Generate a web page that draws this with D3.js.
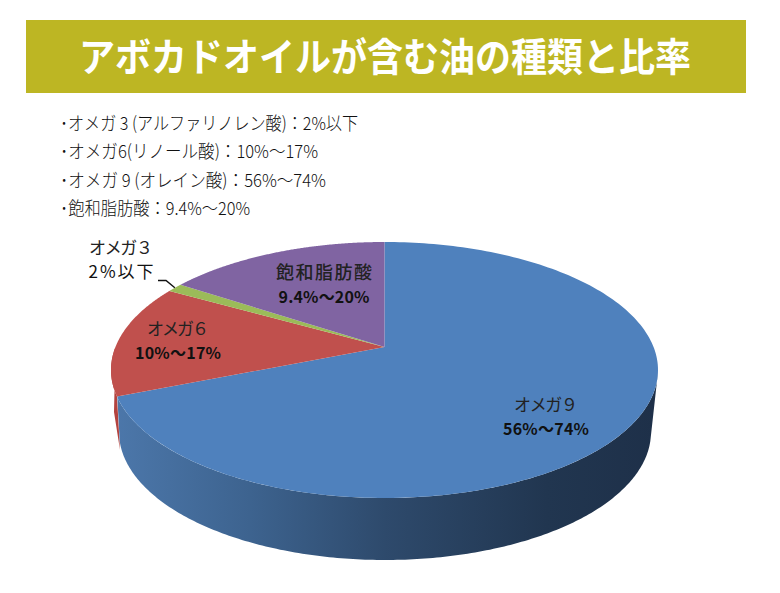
<!DOCTYPE html>
<html>
<head>
<meta charset="utf-8">
<script src="https://cdnjs.cloudflare.com/ajax/libs/d3/7.8.5/d3.min.js"></script>
<style>
html, body { margin: 0; padding: 0; background: #fff; }
text { font-family: "Noto Sans CJK JP", sans-serif; }
</style>
</head>
<body>
<script>
var titleText = "アボカドオイルが含む油の種類と比率";
var noteLines = [
    "･オメガ 3 (アルファリノレン酸)：2%以下",
    "･オメガ6(リノール酸)：10%～17%",
    "･オメガ 9 (オレイン酸)：56%～74%",
    "･飽和脂肪酸：9.4%～20%"
];
var noteWidths = [298, 258, 266, 190];

var categories = ["オメガ９", "オメガ６", "オメガ３", "飽和脂肪酸"];
var shares = [68.9, 14.3, 1.1, 15.7];
var ranges = ["56%～74%", "10%～17%", "2%以下", "9.4%～20%"];
var colors = ["#4f81bd", "#c0504d", "#9bbb59", "#8064a2"];

var nameWidths = [64, 62, 64, 96];
var rangeWidths = [86, 86, 65, 91];

var width = 780, height = 593;

var svg = d3.select("body").append("svg")
    .attr("width", width)
    .attr("height", height)
    .style("display", "block");

// title band
svg.append("rect")
    .attr("x", 26).attr("y", 20)
    .attr("width", 720).attr("height", 73)
    .attr("fill", "#bdb623");
svg.append("text")
    .attr("x", 79).attr("y", 71)
    .attr("font-size", 39)
    .attr("font-weight", 700)
    .attr("fill", "#fff")
    .attr("textLength", 612)
    .attr("lengthAdjust", "spacingAndGlyphs")
    .text(titleText);

// notes above the pie
svg.selectAll(".note")
    .data(noteLines)
    .enter().append("text")
    .attr("class", "note")
    .attr("x", 60)
    .attr("y", function(d, i) { return 130 + i * 28.4; })
    .attr("font-size", 18)
    .attr("font-weight", 300)
    .attr("fill", "#111")
    .attr("textLength", function(d, i) { return noteWidths[i]; })
    .attr("lengthAdjust", "spacingAndGlyphs")
    .text(function(d) { return d; });

// unit circle -> screen, tilted so the hub sits behind the ellipse centre
var tilt = -0.18;
var topX = d3.scaleLinear().domain([-1, 1]).range([111, 658]);
var topY = d3.scaleLinear().domain([-1, 1]).range([242, 498]);
var baseX = d3.scaleLinear().domain([-1, 1]).range([119, 651]);
var baseY = d3.scaleLinear().domain([-1, 1]).range([304, 560]);

function project(a, r, sx, sy) {
    var u = r * Math.sin(a), v = -r * Math.cos(a);
    var d = 1 + tilt * v;
    return [sx(u * Math.sqrt(1 - tilt * tilt) / d), sy((v + tilt) / d)];
}
function sweep(a0, a1, sx, sy) {
    return d3.range(0, 1.0001, 0.005).map(function(t) {
        return project(a0 + (a1 - a0) * t, 1, sx, sy);
    });
}
var line = d3.line();
var pie = d3.pie().sort(null).value(function(d) { return d; });
var arcs = pie(shares);

var defs = svg.append("defs");
var wallGrad = defs.append("linearGradient")
    .attr("id", "wall")
    .attr("gradientUnits", "userSpaceOnUse")
    .attr("x1", 115).attr("x2", 655).attr("y1", 0).attr("y2", 0);
wallGrad.selectAll("stop")
    .data([[0, "#4c77aa"], [0.25, "#3d638f"], [0.5, "#2e4a6c"], [0.8, "#213650"], [1, "#1e3049"]])
    .enter().append("stop")
    .attr("offset", function(d) { return d[0]; })
    .attr("stop-color", function(d) { return d[1]; });

// red sliver of the wall, left of where the blue slice ends (drawn first, wall sits over it)
var split = arcs[1].startAngle;
var redRim = sweep(split, Math.PI * 1.5, topX, topY);
svg.append("path")
    .attr("d", line(redRim.concat([[114, 412], [120, 450]])) + "Z")
    .attr("fill", "#b3423e");

// side wall: the front half of the top rim down to the front half of the base
var frontTop = [];
var frontBase = [];
d3.range(0, 1.0001, 0.002).forEach(function(t) {
    var a = t * 2 * Math.PI;
    var p = project(a, 1, topX, topY), q = project(a, 1, baseX, baseY);
    if (p[1] >= 371 && a <= split) frontTop.push(p);
    if (q[1] >= 440) frontBase.push(q);
});
frontTop.sort(function(m, n) { return n[0] - m[0]; });
frontBase.sort(function(m, n) { return m[0] - n[0]; });
svg.append("path")
    .attr("d", line(frontTop.concat(frontBase)) + "Z")
    .attr("fill", "url(#wall)");

// top face
svg.selectAll(".slice")
    .data(arcs)
    .enter().append("path")
    .attr("class", "slice")
    .attr("fill", function(d, i) { return colors[i]; })
    .attr("d", function(d) {
        return line([project(0, 0, topX, topY)].concat(sweep(d.startAngle, d.endAngle, topX, topY))) + "Z";
    });

// labels
var labelSpots = [[546, 411], [178, 335], [121, 254], [324, 279]];
var labels = svg.selectAll(".label")
    .data(categories)
    .enter().append("g")
    .attr("class", "label")
    .attr("transform", function(d, i) { return "translate(" + labelSpots[i][0] + "," + labelSpots[i][1] + ")"; });
labels.append("text")
    .attr("text-anchor", "middle")
    .attr("font-size", function(d, i) { return i === 3 ? 18 : 17; })
    .attr("font-weight", function(d, i) { return i === 3 ? 500 : 400; })
    .attr("fill", "#222")
    .attr("textLength", function(d, i) { return nameWidths[i]; })
    .attr("lengthAdjust", "spacing")
    .text(function(d) { return d; });
labels.append("text")
    .attr("text-anchor", "middle")
    .attr("y", 24)
    .attr("font-size", function(d, i) { return i === 2 ? 17 : 16; })
    .attr("font-weight", function(d, i) { return i === 2 ? 400 : 700; })
    .attr("fill", "#111")
    .attr("textLength", function(d, i) { return rangeWidths[i]; })
    .attr("lengthAdjust", "spacing")
    .text(function(d, i) { return ranges[i]; });

// leader line for the thin slice
var midA = (arcs[2].startAngle + arcs[2].endAngle) / 2;
var tip = project(midA, 1, topX, topY);
svg.append("path")
    .attr("d", line([[158, 280.5], [166, 280.5], [tip[0], tip[1]]]))
    .attr("fill", "none")
    .attr("stroke", "#111")
    .attr("stroke-width", 1.4);
</script>
</body>
</html>
